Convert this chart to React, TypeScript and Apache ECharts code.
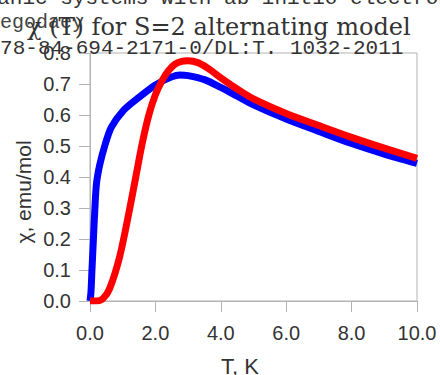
import React, { useEffect, useRef } from "react";
import * as echarts from "echarts";

const xTicks = [0, 2, 4, 6, 8, 10];
const yTicks = [0, 0.1, 0.2, 0.3, 0.4, 0.5, 0.6, 0.7, 0.8];

const blueT = [0, 0.03, 0.06, 0.1, 0.15, 0.2, 0.3, 0.45, 0.65, 1.0, 1.5, 2.0, 2.5, 2.75, 3.0, 3.5, 4.0, 4.5, 5.0, 6.0, 7.0, 8.0, 9.0, 10.0];
const blueChi = [0, 0.03, 0.1, 0.19, 0.3, 0.38, 0.44, 0.5, 0.56, 0.612, 0.657, 0.697, 0.723, 0.729, 0.727, 0.714, 0.689, 0.661, 0.633, 0.587, 0.547, 0.508, 0.474, 0.444];

const redT = [0, 0.2, 0.4, 0.6, 0.9, 1.2, 1.4, 1.6, 1.8, 2.0, 2.2, 2.4, 2.6, 2.8, 3.0, 3.3, 3.6, 4.0, 4.5, 5.0, 6.0, 7.0, 8.0, 9.0, 10.0];
const redChi = [0, 0, 0.008, 0.04, 0.14, 0.29, 0.4, 0.51, 0.6, 0.665, 0.71, 0.743, 0.764, 0.773, 0.775, 0.769, 0.751, 0.72, 0.684, 0.652, 0.605, 0.566, 0.528, 0.493, 0.46];

const titleText = "χ (T) for S=2 alternating model";
const topLine = "rganic systems with ab initio electronic";
const midFragment = "egodaey";
const isbnLine = "978-84-694-2171-0/DL:T. 1032-2011";
const xName = "T, K";
const yName = "χ, emu/mol";

export default function App() {
  const ref = useRef<HTMLDivElement>(null);
  useEffect(() => {
    if (!ref.current) return;
    const chart = echarts.init(ref.current, undefined, { renderer: "svg" });
    const axisColor = "#b3b3b3";
    const labelColor = "#333333";
    chart.setOption({
      animation: false,
      backgroundColor: "#ffffff",
      grid: {
        left: 90,
        right: 23,
        top: 53,
        bottom: 74,
        show: true,
        borderColor: axisColor,
        borderWidth: 1,
      },
      xAxis: {
        type: "value",
        min: 0,
        max: 10,
        interval: 2,
        axisLine: { show: true, lineStyle: { color: axisColor, width: 1 } },
        axisTick: { show: true, length: 11, lineStyle: { color: axisColor } },
        splitLine: { show: false },
        axisLabel: {
          margin: 22,
          color: labelColor,
          fontFamily: "Liberation Sans",
          fontSize: 20,
          formatter: (v: number) => v.toFixed(1),
        },
      },
      yAxis: {
        type: "value",
        min: 0,
        max: 0.8,
        interval: 0.1,
        axisLine: { show: true, lineStyle: { color: axisColor, width: 1 } },
        axisTick: { show: true, length: 11, lineStyle: { color: axisColor } },
        splitLine: { show: false },
        axisLabel: {
          margin: 19,
          color: labelColor,
          fontFamily: "Liberation Sans",
          fontSize: 20,
          formatter: (v: number) => v.toFixed(1),
        },
      },
      series: [
        {
          type: "line",
          data: blueT.map((t, i) => [t, blueChi[i]]),
          showSymbol: false,
          smooth: 0.3,
          lineStyle: { color: "#0000ff", width: 7 },
          z: 2,
        },
        {
          type: "line",
          data: redT.map((t, i) => [t, redChi[i]]),
          showSymbol: false,
          smooth: 0.3,
          lineStyle: { color: "#ff0000", width: 7 },
          z: 3,
        },
      ],
      graphic: [
        {
          type: "text",
          x: -28,
          y: -2,
          style: { text: topLine, font: "21px 'Liberation Mono'", fill: "#333", verticalAlign: "middle" },
        },
        {
          type: "text",
          x: 0,
          y: 22,
          style: { text: midFragment, font: "20px 'Liberation Mono'", fill: "#444", verticalAlign: "middle" },
        },
        {
          type: "text",
          x: 27,
          y: 27,
          style: { text: titleText, font: "24px 'DejaVu Serif'", fill: "#333", verticalAlign: "middle" },
        },
        {
          type: "text",
          x: -12.5,
          y: 48,
          style: { text: isbnLine, font: "21px 'Liberation Mono'", fill: "#333", verticalAlign: "middle" },
        },
        {
          type: "text",
          x: 240,
          y: 366,
          style: { text: xName, font: "22px 'Liberation Sans'", fill: labelColor, align: "center", verticalAlign: "middle" },
        },
        {
          type: "text",
          x: 23,
          y: 192,
          rotation: Math.PI / 2,
          style: { text: yName, font: "21px 'Liberation Sans'", fill: labelColor, align: "center", verticalAlign: "middle" },
        },
      ],
    });
    return () => chart.dispose();
  }, []);
  return <div ref={ref} style={{ width: 440, height: 375, position: "absolute", left: 0, top: 0 }} />;
}
